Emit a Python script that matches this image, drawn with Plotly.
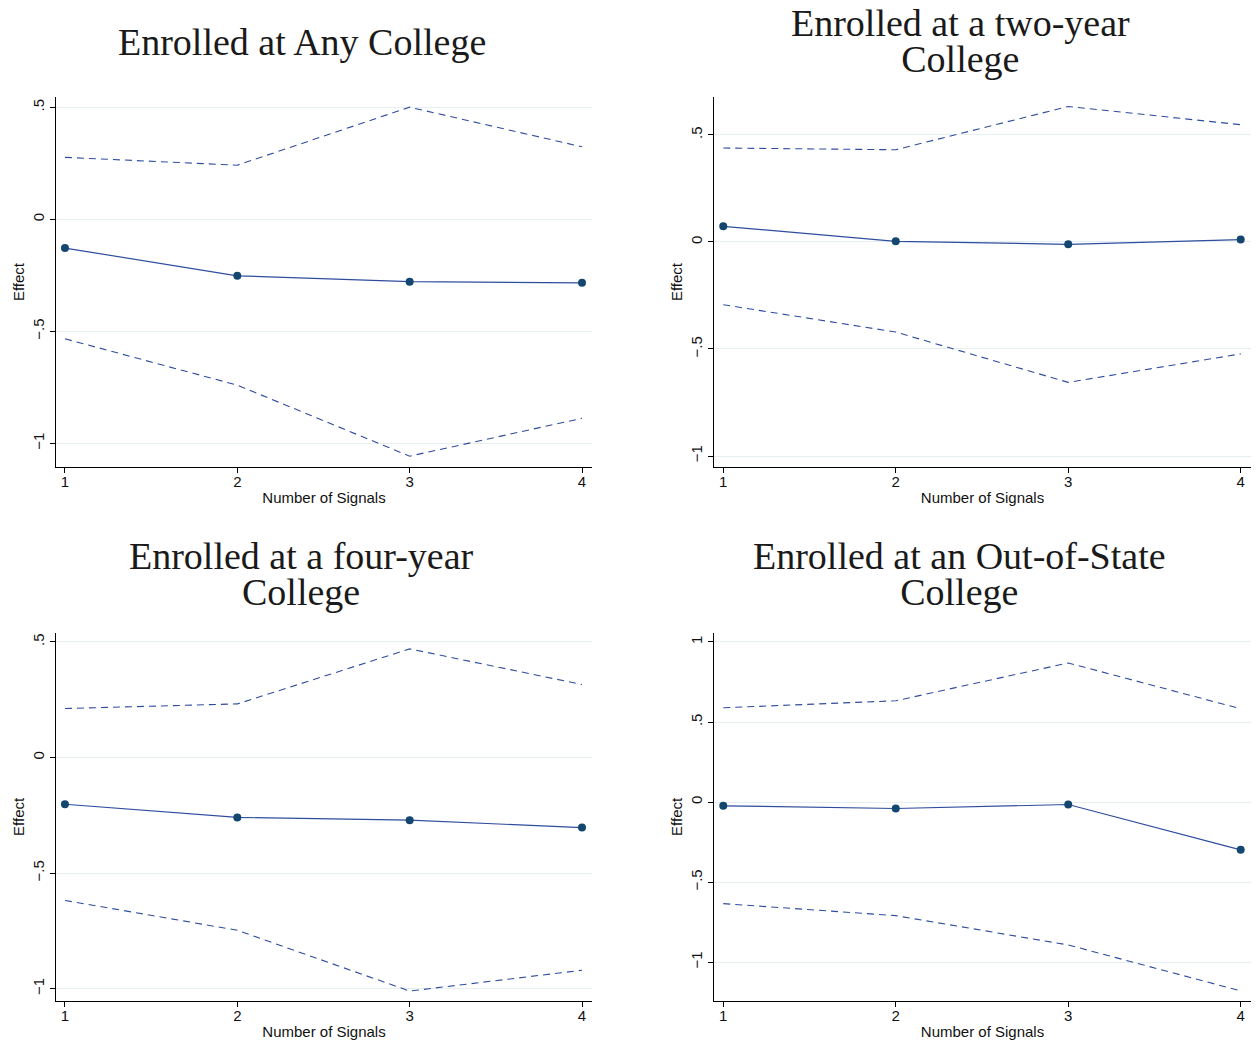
import plotly.graph_objects as go

W, H = 1259, 1044

signals = [1, 2, 3, 4]

titles = [
    ["Enrolled at Any College"],
    ["Enrolled at a two-year", "College"],
    ["Enrolled at a four-year", "College"],
    ["Enrolled at an Out-of-State", "College"],
]

any_est = [-0.128, -0.252, -0.278, -0.283]
any_hi = [0.277, 0.242, 0.501, 0.324]
any_lo = [-0.533, -0.740, -1.057, -0.888]

two_est = [0.073, 0.003, -0.011, 0.011]
two_hi = [0.439, 0.431, 0.633, 0.548]
two_lo = [-0.293, -0.421, -0.656, -0.523]

four_est = [-0.202, -0.259, -0.271, -0.303]
four_hi = [0.212, 0.232, 0.470, 0.316]
four_lo = [-0.618, -0.747, -1.010, -0.920]

oos_est = [-0.023, -0.040, -0.015, -0.298]
oos_hi = [0.589, 0.633, 0.869, 0.583]
oos_lo = [-0.634, -0.709, -0.892, -1.179]

ytickvals = [
    [-1, -0.5, 0, 0.5],
    [-1, -0.5, 0, 0.5],
    [-1, -0.5, 0, 0.5],
    [-1, -0.5, 0, 0.5, 1],
]
yticktext = [
    ["\u22121", "\u2212.5", "0", ".5"],
    ["\u22121", "\u2212.5", "0", ".5"],
    ["\u22121", "\u2212.5", "0", ".5"],
    ["\u22121", "\u2212.5", "0", ".5", "1"],
]
yranges = [[-1.104, 0.545], [-1.05, 0.676], [-1.053, 0.540], [-1.242, 1.058]]
xrange_ = [0.948, 4.058]

series = [
    (any_est, any_hi, any_lo),
    (two_est, two_hi, two_lo),
    (four_est, four_hi, four_lo),
    (oos_est, oos_hi, oos_lo),
]

# plot-area geometry in page pixels (left, right, top, bottom)
boxes = [
    (56, 592, 97.3, 466.7),
    (714.3, 1250.7, 97.3, 466.7),
    (56, 592, 632.7, 1001),
    (714.3, 1250.7, 632.7, 1001),
]
title_x = [301.5, 960, 301, 959.5]
title_y = [41.5, 41.0, 574.2, 574.2]


def px(v):
    return v / W


def py(v):
    return 1 - v / H


LINE = "#2f4d9e"
MARK = "#14476f"
GRID = "#e5eef1"
SANS = "Liberation Sans, Arial, Helvetica, sans-serif"
SERIF = "Liberation Serif, Times New Roman, Times, serif"
TITLE_SIZE = 38
# base size sets the line spacing (1.3 em) for two-line titles
BASE_SIZE = 27.5

fig = go.Figure()
layout = {}
annotations = []

for i, (est, hi, lo) in enumerate(series):
    n = "" if i == 0 else str(i + 1)
    xa, ya = "x" + n, "y" + n
    for vals in (hi, lo):
        fig.add_trace(go.Scatter(
            x=signals, y=vals, mode="lines", xaxis=xa, yaxis=ya,
            line=dict(color=LINE, width=1.1, dash="7px,5px"), showlegend=False,
            hoverinfo="skip"))
    fig.add_trace(go.Scatter(
        x=signals, y=est, mode="lines+markers", xaxis=xa, yaxis=ya,
        line=dict(color=LINE, width=1.2),
        marker=dict(color=MARK, size=8), showlegend=False))

    l, r, t, b = boxes[i]
    layout["xaxis" + n] = dict(
        domain=[px(l), px(r)], anchor=ya, range=xrange_,
        tickvals=signals, ticktext=[str(s) for s in signals],
        ticks="outside", ticklen=5, tickwidth=1, tickcolor="#000",
        ticklabelstandoff=-4,
        showline=True, linecolor="#000", linewidth=1.3,
        showgrid=False, zeroline=False,
        tickfont=dict(family=SANS, size=15, color="#111"),
        title=dict(text="Number of Signals", standoff=3,
                   font=dict(family=SANS, size=15, color="#111")),
    )
    layout["yaxis" + n] = dict(
        domain=[py(b), py(t)], anchor=xa, range=yranges[i],
        tickvals=ytickvals[i], ticktext=yticktext[i], tickangle=-90,
        ticks="outside", ticklen=5, tickwidth=1, tickcolor="#000",
        showline=True, linecolor="#000", linewidth=1.3,
        showgrid=True, gridcolor=GRID, gridwidth=1, zeroline=False,
        tickfont=dict(family=SANS, size=15, color="#111"),
        title=dict(text="Effect", standoff=1,
                   font=dict(family=SANS, size=15, color="#111")),
    )
    if len(titles[i]) == 1:
        text, size = titles[i][0], TITLE_SIZE
    else:
        text = "<br>".join(
            '<span style="font-size:%dpx">%s</span>' % (TITLE_SIZE, s) for s in titles[i])
        size = BASE_SIZE
    annotations.append(dict(
        text=text, xref="paper", yref="paper",
        x=px(title_x[i]), y=py(title_y[i]), xanchor="center", yanchor="middle",
        showarrow=False, font=dict(family=SERIF, size=size, color="#1a1a1a")))

fig.update_layout(
    width=W, height=H, margin=dict(l=0, r=0, t=0, b=0),
    paper_bgcolor="white", plot_bgcolor="white",
    annotations=annotations, **layout)

fig.write_html("out.html", config={"displayModeBar": False},
               post_script="document.body.style.margin='0';")
